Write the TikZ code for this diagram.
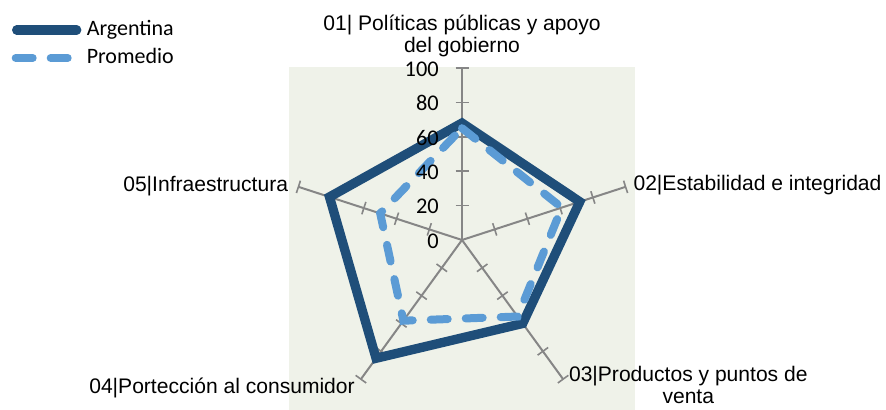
\documentclass[tikz,border=0pt]{standalone}
\usepackage{fontspec}
\setmainfont{Liberation Sans}
\newfontfamily\calfont{Carlito}
\usetikzlibrary{calc}
\definecolor{bgc}{RGB}{239,242,233}
\definecolor{argc}{RGB}{31,78,121}
\definecolor{proc}{RGB}{91,155,213}
\definecolor{axc}{RGB}{134,134,134}
\begin{document}
\begin{tikzpicture}[x=0.75pt,y=0.75pt,
  axisline/.style={draw=axc,line width=1.5pt},
  tickline/.style={draw=axc,line width=1.2pt},
  arg/.style={draw=argc,line width=7pt},
  prom/.style={draw=proc,line width=6pt,line cap=round,dash pattern=on 12.75pt off 13.5pt},
  lab/.style={inner sep=0pt,font=\fontsize{15.8}{16.5}\selectfont},
  num/.style={inner sep=0pt,anchor=east,font=\calfont\fontsize{16.8}{18}\selectfont},
  leg/.style={inner sep=0pt,anchor=base west,font=\calfont\fontsize{16.5}{18}\selectfont}]
\useasboundingbox (0,0) rectangle (886,410);
\fill[white] (0,0) rectangle (886,410);
\fill[bgc] (289,0) rectangle (635,343);
\coordinate (O) at (462,170);
\foreach \a [count=\i] in {90,18,-54,-126,-198} {
  \coordinate (E\i) at ($(O)+(\a:172)$);
  \draw[axisline] (O) -- (E\i);
  \foreach \v in {20,40,60,80,100} {
    \draw[tickline] ($(O)+(\a:{1.72*\v})+(\a+90:6.5)$) -- ($(O)+(\a:{1.72*\v})+(\a-90:6.5)$);
  }
}
\foreach \a/\v [count=\i] in {90/68,18/72,-54/60,-126/85,-198/81}
  \coordinate (A\i) at ($(O)+(\a:{1.72*\v})$);
\foreach \a/\v [count=\i] in {90/65,18/61,-54/55,-126/58,-198/50}
  \coordinate (P\i) at ($(O)+(\a:{1.72*\v})$);
\draw[arg] (A1) -- (A2) -- (A3) -- (A4) -- (A5) -- cycle;
\draw[prom] (P1) -- (P2) -- (P3) -- (P4) -- (P5) -- cycle;
\foreach \v in {0,20,40,60,80,100} {
  \node[num] (n\v) at (439,{169+1.72*\v}) {\v};
}
% legend
\coordinate (la1) at (16.7,380);
\coordinate (la2) at (76.7,380);
\coordinate (lp1) at (15.7,352);
\coordinate (lp2) at (68,352);
\draw[arg,line cap=round] (la1) -- (la2);
\draw[prom] (lp1) -- (lp2);
\node[leg] (tA) at (86.5,374) {Argentina};
\node[leg] (tP) at (86.5,346) {Promedio};
% axis labels
\node[lab,anchor=base,align=center] (L1) at (462,357) {01| Políticas públicas y apoyo\\del gobierno};
\node[lab,anchor=base west] (L2) at (633.3,219.3) {02|Estabilidad e integridad};
\node[lab,anchor=base,align=center] (L3) at (688.3,6.7) {03|Productos y puntos de\\venta};
\node[lab,anchor=base east] (L4) at (355,16.7) {04|Portección al consumidor};
\node[lab,anchor=base east] (L5) at (288.3,218.3) {05|Infraestructura};
\end{tikzpicture}
\end{document}
